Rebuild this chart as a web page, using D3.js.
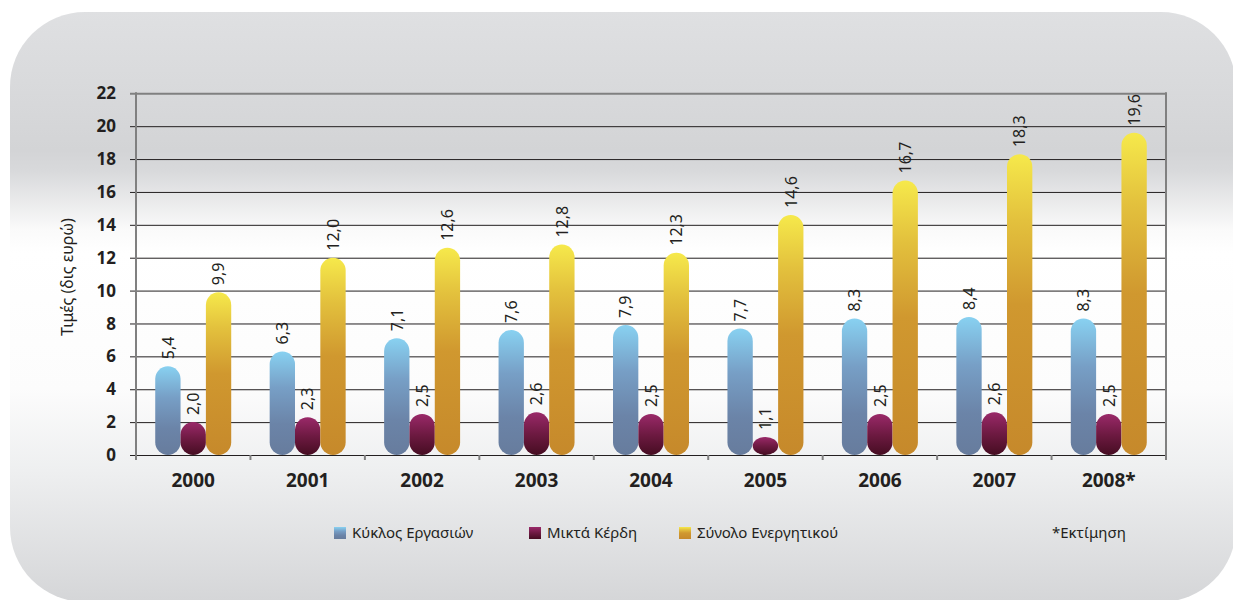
<!DOCTYPE html>
<html>
<head>
<meta charset="utf-8">
<script src="https://cdn.jsdelivr.net/npm/d3@7"></script>
<style>
  body { margin: 0; background: #ffffff; }
  svg text { font-family: "Noto Sans", "Open Sans", sans-serif; fill: #231f20; }
</style>
</head>
<body>
<script>
'use strict';

// chart data
let years = ["2000", "2001", "2002", "2003", "2004", "2005", "2006", "2007", "2008*"];
let turnover = [5.4, 6.3, 7.1, 7.6, 7.9, 7.7, 8.3, 8.4, 8.3];     // Κύκλος Εργασιών
let grossProfit = [2.0, 2.3, 2.5, 2.6, 2.5, 1.1, 2.5, 2.6, 2.5];  // Μικτά Κέρδη
let totalAssets = [9.9, 12.0, 12.6, 12.8, 12.3, 14.6, 16.7, 18.3, 19.6]; // Σύνολο Ενεργητικού
let seriesNames = ["Κύκλος Εργασιών", "Μικτά Κέρδη", "Σύνολο Ενεργητικού"];
let yTicks = [0, 2, 4, 6, 8, 10, 12, 14, 16, 18, 20, 22];

let svg = "";

window.onload = function () {
  svg = d3.select('body')
    .append('svg')
    .attr('width', 1233)
    .attr('height', 600);

  makeDefs();
  makeBackground();

  let left = 136, right = 1166, top = 93.3, bottom = 455;

  let x = d3.scaleBand()
    .domain(years)
    .range([left, right])
    .paddingInner(0.336)
    .paddingOuter(0.168);

  let inner = d3.scaleBand()
    .domain([0, 1, 2])
    .range([0, x.bandwidth()]);

  let y = d3.scaleLinear()
    .domain([0, 22])
    .range([bottom, top]);

  drawGrid(x, y, left, right);
  drawBars(x, inner, y);
  drawLabels(y);
  drawLegend();
}

// gradients for background and bars
function makeDefs() {
  let defs = svg.append('defs');

  let bg = defs.append('linearGradient')
    .attr('id', 'bg')
    .attr('gradientUnits', 'userSpaceOnUse')
    .attr('x1', 0).attr('y1', 12).attr('x2', 0).attr('y2', 600);
  [[0, '#dfe0e2'], [0.235, '#d3d4d6'], [0.27, '#d8d9db'], [0.37, '#fafafa'], [0.41, '#ffffff'],
   [0.64, '#fcfcfc'], [0.78, '#eeeff0'], [1, '#d5d6d8']].forEach(function (s) {
    bg.append('stop').attr('offset', s[0]).attr('stop-color', s[1]);
  });

  let stops = [
    [[0, '#88d1f1'], [0.35, '#779fc6'], [0.7, '#6b84a8'], [1, '#677c9d']],
    [[0, '#9a2969'], [0.5, '#6e1a42'], [1, '#460d22']],
    [[0, '#f6e94b'], [0.22, '#e3c13d'], [0.5, '#d0982f'], [1, '#c6892b']]
  ];
  stops.forEach(function (list, i) {
    let g = defs.append('linearGradient')
      .attr('id', 'grad' + i)
      .attr('x1', 0).attr('y1', 0).attr('x2', 0).attr('y2', 1);
    list.forEach(function (s) {
      g.append('stop').attr('offset', s[0]).attr('stop-color', s[1]);
    });
  });
}

// rounded grey panel
function makeBackground() {
  svg.append('rect')
    .attr('x', 10)
    .attr('y', 12)
    .attr('width', 1226)
    .attr('height', 590)
    .attr('rx', 75)
    .attr('fill', 'url(#bg)');
}

// grid lines, axes and ticks
function drawGrid(x, y, left, right) {
  // grid lines start 6px left of the axis (tick) and run to the right border
  let yAxis = d3.axisLeft(y)
    .tickValues(yTicks)
    .tickSize(-(right - left + 6))
    .tickFormat('');
  let g = svg.append('g')
    .attr('transform', 'translate(' + (left - 6) + ',0)')
    .call(yAxis);
  g.select('.domain').remove();
  g.selectAll('.tick line')
    .attr('stroke', function (d) { return d === 22 ? '#808080' : '#231f20'; })
    .attr('stroke-width', function (d) { return d === 22 ? 2 : 1; });

  // tick labels
  svg.append('g')
    .selectAll('text')
    .data(yTicks)
    .enter()
    .append('text')
    .attr('x', 116)
    .attr('y', (d) => y(d))
    .attr('dy', '0.36em')
    .attr('text-anchor', 'end')
    .style('font-size', '17px')
    .style('font-weight', 'bold')
    .text((d) => d);

  // left and right border
  [left, right].forEach(function (px) {
    svg.append('line')
      .attr('x1', px).attr('x2', px)
      .attr('y1', y(22) - 1).attr('y2', y(0) + 5)
      .attr('stroke', '#808080')
      .attr('stroke-width', 2);
  });

  // category separators
  svg.append('g')
    .selectAll('line')
    .data(years.slice(1))
    .enter()
    .append('line')
    .attr('x1', (d) => x(d) - x.step() * x.paddingInner() / 2)
    .attr('x2', (d) => x(d) - x.step() * x.paddingInner() / 2)
    .attr('y1', y(0))
    .attr('y2', y(0) + 5)
    .attr('stroke', '#808080')
    .attr('stroke-width', 2);

  // year labels
  svg.append('g')
    .selectAll('text')
    .data(years)
    .enter()
    .append('text')
    .attr('x', (d) => x(d) + x.bandwidth() / 2)
    .attr('y', 487)
    .attr('text-anchor', 'middle')
    .style('font-size', '19px')
    .style('font-weight', 'bold')
    .text((d) => d);
}

// pill shaped bars with rotated value labels
function drawBars(x, inner, y) {
  let series = [turnover, grossProfit, totalAssets];
  let w = inner.bandwidth();

  series.forEach(function (values, s) {
    let rows = years.map((yr, i) => ({ year: yr, value: values[i] }));

    svg.append('g')
      .selectAll('rect')
      .data(rows)
      .enter()
      .append('rect')
      .attr('x', (d) => x(d.year) + inner(s))
      .attr('y', (d) => y(d.value))
      .attr('width', w)
      .attr('height', (d) => y(0) - y(d.value))
      .attr('rx', w / 2)
      .attr('fill', 'url(#grad' + s + ')');

    svg.append('g')
      .selectAll('text')
      .data(rows)
      .enter()
      .append('text')
      .attr('transform', (d) => 'translate(' + (x(d.year) + inner(s) + w / 2) + ',' + (y(d.value) - 7) + ')rotate(-90)')
      .attr('dy', '0.36em')
      .style('font-size', '16px')
      .text((d) => d.value.toFixed(1).replace('.', ','));
  });
}

// axis title
function drawLabels(y) {
  svg.append('text')
    .attr('transform', 'translate(67, 277)rotate(-90)')
    .attr('text-anchor', 'middle')
    .attr('dy', '0.36em')
    .style('font-size', '16px')
    .text('Τιμές (δις ευρώ)');
}

// legend row at the bottom
function drawLegend() {
  let xs = [334, 529, 679];
  let legend = svg.append('g');
  seriesNames.forEach(function (name, i) {
    legend.append('rect')
      .attr('x', xs[i])
      .attr('y', 527)
      .attr('width', 12)
      .attr('height', 12)
      .attr('fill', 'url(#grad' + i + ')');
    legend.append('text')
      .attr('x', xs[i] + 18)
      .attr('y', 538)
      .style('font-size', '15px')
      .text(name);
  });

  legend.append('text')
    .attr('x', 1052)
    .attr('y', 538)
    .style('font-size', '15px')
    .text('*Εκτίμηση');
}
</script>
</body>
</html>
